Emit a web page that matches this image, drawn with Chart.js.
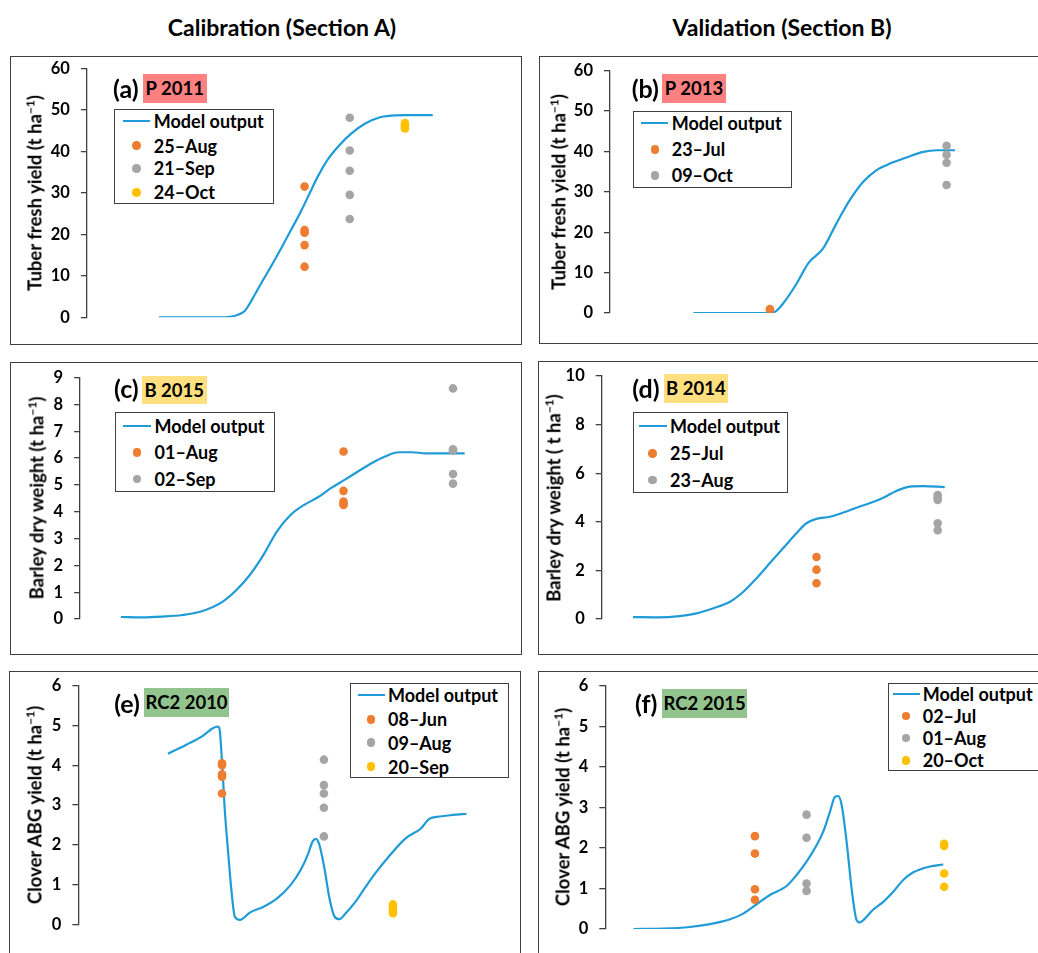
<!DOCTYPE html>
<html>
<head>
<meta charset="utf-8">
<script src="https://cdn.jsdelivr.net/npm/chart.js@4.4.1/dist/chart.umd.min.js"></script>
<style>
  body { margin:0; width:1038px; height:953px; overflow:hidden; background:#fff; position:relative;
         font-family: Lato, "Open Sans", sans-serif; font-weight:bold; color:#000; }
  canvas.layer { position:absolute; left:0; top:0; }
  .box { position:absolute; border:1.5px solid #404040; box-sizing:border-box; }
  .col { position:absolute; top:27px; font-size:23px; transform:translate(-50%,-50%); white-space:nowrap; }
  .ytitle { position:absolute; font-size:18.5px; white-space:nowrap; transform:translate(-50%,-50%) rotate(-90deg); }
  .ytitle sup { font-size:12px; }
  .tag { position:absolute; font-size:25px; transform:translateY(-50%); white-space:nowrap; }
  .hl { position:absolute; font-size:18.5px; display:flex; align-items:center; justify-content:center; }
  .legend { position:absolute; border:1.5px solid #404040; background:#fff; box-sizing:border-box; z-index:5; }
  .lg { position:absolute; z-index:6; }
  .lgtext { position:absolute; z-index:6; font-size:18px; transform:translateY(-50%); white-space:nowrap; }
</style>
</head>
<body>
<div class="col" style="left:282px">Calibration (Section A)</div>
<div class="col" style="left:782px">Validation (Section B)</div>
<script>
// ---------- colours ----------
const BLUE = '#1f9bd7', ORANGE = '#ed7d31', GREY = '#a5a5a5', GOLD = '#ffc000';

// ---------- (a) P 2011 ----------
const aLineDay   = [150, 180, 187.3, 196.4, 201.4, 205.5, 210.5, 216.6, 222.7, 228.7, 234.8, 239.8, 244.9, 251, 257, 265, 273.2, 281.2, 289.3, 297.4, 313.6];
const aLineYield = [0, 0, 0, 0.5, 1.6, 4.2, 7.8, 12.0, 16.4, 20.9, 25.5, 29.7, 33.9, 38.1, 41.1, 44.3, 46.7, 48.1, 48.6, 48.7, 48.7];
const aObsLabels = ['25\u2013Aug', '21\u2013Sep', '24\u2013Oct'];
const aObsDay    = [237, 264, 297];
const aObs       = [[31.5, 21.0, 20.4, 17.4, 12.2], [48.1, 40.2, 35.3, 29.5, 23.7], [46.8, 46.3, 45.9, 45.5]];

// ---------- (b) P 2013 ----------
const bLineDay   = [170.2, 201.1, 206.2, 209.9, 215.8, 220.9, 227.5, 233.4, 239.3, 245.2, 251.1, 257, 264.3, 271.7, 277.6, 285.7];
const bLineYield = [0, 0, 0.33, 2.4, 7.3, 12.3, 16.0, 22.2, 28.0, 32.5, 35.4, 37.0, 38.5, 39.9, 40.3, 40.3];
const bObsLabels = ['23\u2013Jul', '09\u2013Oct'];
const bObsDay    = [204, 282];
const bObs       = [[1.0, 0.8], [41.4, 39.2, 37.2, 31.7]];

// ---------- (c) B 2015 ----------
const cLineDay   = [147.9, 154, 160, 165.9, 171.8, 177.7, 181.7, 185.6, 189.6, 193.5, 197.5, 201.4, 205.4, 209.3, 213.3, 217.2, 221.2, 225.1, 229.1, 233, 237, 241, 248.4];
const cLineDw    = [0.075, 0.06, 0.09, 0.15, 0.3, 0.65, 1.08, 1.64, 2.39, 3.26, 3.88, 4.25, 4.53, 4.88, 5.19, 5.5, 5.81, 6.06, 6.22, 6.22, 6.18, 6.18, 6.18];
const cObsLabels = ['01\u2013Aug', '02\u2013Sep'];
const cObsDay    = [213, 245];
const cObs       = [[6.25, 4.78, 4.38, 4.3, 4.25], [8.6, 6.33, 6.28, 5.41, 5.05]];

// ---------- (d) B 2014 ----------
const dLineDay   = [162.1, 167.7, 173.3, 177.3, 181.3, 185.3, 188.5, 191.6, 194.8, 198, 201.2, 203.6, 206, 209.2, 212.4, 215.6, 218.8, 222, 225.1, 228.3, 231.5, 236.7];
const dLineDw    = [0.08, 0.07, 0.12, 0.23, 0.44, 0.71, 1.12, 1.67, 2.29, 2.91, 3.53, 3.94, 4.12, 4.21, 4.38, 4.58, 4.77, 4.99, 5.27, 5.45, 5.47, 5.43];
const dObsLabels = ['25\u2013Jul', '23\u2013Aug'];
const dObsDay    = [206, 235];
const dObs       = [[2.55, 2.03, 1.47], [5.1, 4.99, 4.9, 3.94, 3.65]];

// ---------- (e) RC2 2010 ----------
const eLineDay   = [126.1, 137, 147.3, 153.4, 156.5, 157.6, 158.6, 159.6, 160.6, 162.7, 164.8, 166.8, 169.9, 176.1, 184.3, 192.5, 200.8, 206.9, 211.1, 214.1, 216.2, 218.3, 221.3, 224.4, 227.5, 230.6, 233.7, 239.9, 246, 252.2, 260.4, 270.7, 280, 285.1, 291.3, 299.5, 307.8];
const eLineAbg   = [4.29, 4.51, 4.74, 4.93, 4.97, 4.89, 4.34, 3.67, 2.92, 1.82, 0.82, 0.19, 0.11, 0.3, 0.44, 0.65, 0.99, 1.37, 1.74, 2.08, 2.15, 1.99, 1.41, 0.65, 0.19, 0.13, 0.25, 0.55, 0.92, 1.28, 1.7, 2.16, 2.41, 2.65, 2.71, 2.75, 2.78];
const eObsLabels = ['08\u2013Jun', '09\u2013Aug', '20\u2013Sep'];
const eObsDay    = [159, 221, 263];
const eObs       = [[4.05, 4.0, 3.77, 3.71, 3.29], [4.14, 3.5, 3.29, 2.93, 2.21], [0.5, 0.42, 0.34, 0.28]];

// ---------- (f) RC2 2015 ----------
const fLineDay   = [112.3, 129.7, 145.2, 156.8, 168.5, 176.2, 184, 191.7, 195.6, 201.4, 207.2, 213, 218.9, 222.7, 226.6, 229.5, 231.4, 233.4, 236.3, 239.2, 242.1, 244, 246, 251.8, 257.6, 263.4, 269.2, 275.1, 284.7, 292.5];
const fLineAbg   = [0, 0.01, 0.05, 0.12, 0.24, 0.38, 0.61, 0.84, 0.92, 1.06, 1.33, 1.66, 2.07, 2.4, 2.89, 3.26, 3.28, 3.06, 2.15, 1.0, 0.22, 0.16, 0.22, 0.48, 0.67, 0.92, 1.21, 1.4, 1.54, 1.59];
const fObsLabels = ['02\u2013Jul', '01\u2013Aug', '20\u2013Oct'];
const fObsDay    = [183, 213, 293];
const fObs       = [[2.29, 1.86, 0.98, 0.72], [2.82, 2.25, 1.12, 0.94], [2.1, 2.05, 1.37, 1.04]];

// y axis ranges
const yMaxes = { a: 60, b: 60, c: 9, d: 10, e: 6, f: 6 };
const ySteps = { a: 10, b: 10, c: 1, d: 2, e: 1, f: 1 };

// ---------- page layout (pixels) ----------
const panels = [
  { key:'a', tag:'(a)', crop:'P 2011', hlColor:'#ff8080', title:'Tuber fresh yield (t ha<sup>\u22121</sup>)',
    lineDay:aLineDay, lineVal:aLineYield, obsDay:aObsDay, obs:aObs, obsLabels:aObsLabels,
    box:[10,56,512,289], axisX:86.9, yTop:68.3, yBot:317.3, xMin:106.9, xMax:353.8, xRight:500, titleX:33.8,
    tagXY:[113,88.3], hl:[143,74,63.5,28.7],
    lg:{ box:[114.2,109.3,159.6,94.4], rows:[121,145.7,168.3,192.3], line:[122.7,150.4], dotX:136.6, textX:153.8 } },
  { key:'b', tag:'(b)', crop:'P 2013', hlColor:'#ff8080', title:'Tuber fresh yield (t ha<sup>\u22121</sup>)',
    lineDay:bLineDay, lineVal:bLineYield, obsDay:bObsDay, obs:bObs, obsLabels:bObsLabels,
    box:[539,56,512,288], axisX:610, yTop:70.7, yBot:313, xMin:133.4, xMax:314.4, xRight:1020, titleX:558.3,
    tagXY:[631.7,88.3], hl:[662.3,74,63.4,28.7],
    lg:{ box:[632.7,110.7,159.3,77.6], rows:[122.7,149.3,175.3], line:[641,668.3], dotX:655, textX:671.7 } },
  { key:'c', tag:'(c)', crop:'B 2015', hlColor:'#ffdf80', title:'Barley dry weight (t ha<sup>\u22121</sup>)',
    lineDay:cLineDay, lineVal:cLineDw, obsDay:cObsDay, obs:cObs, obsLabels:cObsLabels,
    box:[10,361.7,512,293.3], axisX:80.1, yTop:377.7, yBot:619, xMin:136, xMax:260.2, xRight:505, titleX:35.5,
    tagXY:[114,388.3], hl:[142,376,64.5,28.3],
    lg:{ box:[115,412.3,159.8,79.7], rows:[426,452.3,479], line:[123.4,151], dotX:136.9, textX:154.5 } },
  { key:'d', tag:'(d)', crop:'B 2014', hlColor:'#ffdf80', title:'Barley dry weight ( t ha<sup>\u22121</sup>)',
    lineDay:dLineDay, lineVal:dLineDw, obsDay:dObsDay, obs:dObs, obsLabels:dObsLabels,
    box:[538.3,361,512,294], axisX:601.7, yTop:376, yBot:619, xMin:154.6, xMax:254.7, xRight:1020, titleX:553.3,
    tagXY:[632.3,388.3], hl:[664,374,63.7,28.7],
    lg:{ box:[633,412.3,154.7,81], rows:[426,453.3,480], line:[639.3,666.7], dotX:652.7, textX:670 } },
  { key:'e', tag:'(e)', crop:'RC2 2010', hlColor:'#93c48d', title:'Clover ABG yield (t ha<sup>\u22121</sup>)',
    lineDay:eLineDay, lineVal:eLineAbg, obsDay:eObsDay, obs:eObs, obsLabels:eObsLabels,
    box:[9,671,512,300], axisX:78.4, yTop:685.7, yBot:924.3, xMin:71.6, xMax:331.2, xRight:505, titleX:33.8,
    tagXY:[114.2,702.7], hl:[144.3,688.3,84.5,28.4],
    lg:{ box:[349.8,683.3,158.9,94.4], rows:[695,719.3,742.7,766.7], line:[357.6,385.3], dotX:371.1, textX:388 } },
  { key:'f', tag:'(f)', crop:'RC2 2015', hlColor:'#93c48d', title:'Clover ABG yield (t ha<sup>\u22121</sup>)',
    lineDay:fLineDay, lineVal:fLineAbg, obsDay:fObsDay, obs:fObs, obsLabels:fObsLabels,
    box:[538.3,670.7,512,300], axisX:605.3, yTop:685.7, yBot:929, xMin:96, xMax:337.1, xRight:1020, titleX:561.7,
    tagXY:[635,703.3], hl:[662.3,689,84.7,28.7],
    lg:{ box:[887.7,683.3,160,87.7], rows:[694.3,716,738,760.3], line:[892.7,920], dotX:906, textX:922.7 } }
];

const obsColors = [ORANGE, GREY, GOLD];
const FONT = 'Lato, "Open Sans", sans-serif';

function el(cls, style, html) {
  const d = document.createElement('div');
  d.className = cls;
  Object.assign(d.style, style);
  if (html) d.innerHTML = html;
  document.body.appendChild(d);
  return d;
}

function drawPanel(p) {
  // frame
  el('box', { left:p.box[0]+'px', top:p.box[1]+'px', width:p.box[2]+'px', height:p.box[3]+'px' });

  // chart on a full-page transparent layer, so chart area = page pixels
  const cv = document.createElement('canvas');
  cv.width = 1038; cv.height = 953; cv.className = 'layer';
  document.body.appendChild(cv);

  const datasets = p.obsDay.map((day, i) => ({
    type: 'scatter',
    data: p.obs[i].map(v => ({ x: day, y: v })),
    backgroundColor: obsColors[i],
    pointRadius: 4.3,
    pointBorderWidth: 0,
    showLine: false
  }));
  datasets.push({
    type: 'line',
    data: p.lineDay.map((d, i) => ({ x: d, y: p.lineVal[i] })),
    borderColor: BLUE,
    borderWidth: 2.2,
    pointRadius: 0,
    cubicInterpolationMode: 'monotone',
    fill: false
  });

  new Chart(cv, {
    type: 'line',
    data: { datasets },
    options: {
      responsive: false,
      animation: false,
      events: [],
      layout: { padding: { left: 0, top: p.yTop, bottom: 953 - p.yBot, right: 1038 - p.xRight } },
      plugins: { legend: { display: false }, tooltip: { enabled: false } },
      scales: {
        x: { type: 'linear', display: false, min: p.xMin, max: p.xMax },
        y: {
          min: 0, max: yMaxes[p.key],
          ticks: { stepSize: ySteps[p.key], color: '#000', padding: 11,
                   font: { family: FONT, size: 16.5, weight: 'bold' } },
          grid: { drawOnChartArea: false, drawTicks: true, tickLength: 6, color: '#404040', lineWidth: 1.3 },
          border: { display: true, color: '#404040', width: 1.3 },
          afterFit: s => { s.width = p.axisX; }
        }
      }
    }
  });

  // axis title
  el('ytitle', { left:p.titleX+'px', top:((p.yTop + p.yBot) / 2)+'px' }, p.title);
  // panel tag + crop highlight
  el('tag', { left:p.tagXY[0]+'px', top:p.tagXY[1]+'px' }, p.tag);
  el('hl', { left:p.hl[0]+'px', top:p.hl[1]+'px', width:p.hl[2]+'px', height:p.hl[3]+'px', background:p.hlColor }, p.crop);

  // legend
  const g = p.lg;
  el('legend', { left:g.box[0]+'px', top:g.box[1]+'px', width:g.box[2]+'px', height:g.box[3]+'px' });
  const labels = ['Model output'].concat(p.obsLabels);
  labels.forEach((t, i) => {
    const y = g.rows[i];
    if (i === 0) {
      el('lg', { left:g.line[0]+'px', top:(y-1.1)+'px', width:(g.line[1]-g.line[0])+'px', height:'2.2px', background:BLUE });
    } else {
      el('lg', { left:(g.dotX-4.3)+'px', top:(y-4.3)+'px', width:'8.6px', height:'8.6px', borderRadius:'50%', background:obsColors[i-1] });
    }
    el('lgtext', { left:g.textX+'px', top:y+'px' }, t);
  });
}

window.addEventListener('DOMContentLoaded', () => panels.forEach(drawPanel));
</script>
</body>
</html>
